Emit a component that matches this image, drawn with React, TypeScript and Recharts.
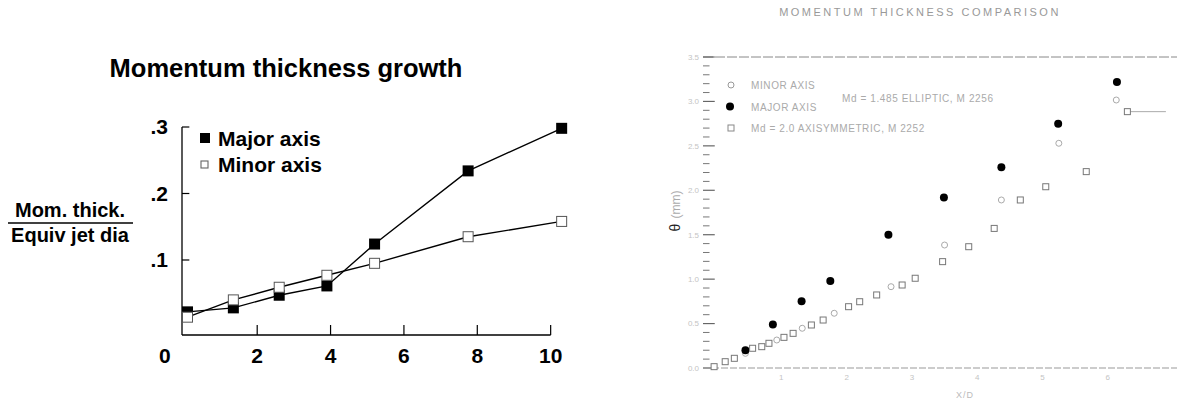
import React from 'react'
import {
  LineChart, Line, XAxis, YAxis, ReferenceLine, Legend,
  ScatterChart, Scatter,
} from 'recharts'

const FONT = '"Liberation Sans", Arial, Helvetica, sans-serif'

// left panel: momentum thickness growth
const axialDist = [0.1, 1.35, 2.6, 3.9, 5.2, 7.75, 10.3]
const majorAxis = [0.022, 0.028, 0.047, 0.061, 0.124, 0.234, 0.298]
const minorAxis = [0.014, 0.04, 0.059, 0.077, 0.095, 0.135, 0.158]
const growthXTicks = [0, 2, 4, 6, 8, 10]
const growthYTicks = [0.1, 0.2, 0.3]
const growthXDomain = [-0.05, 10.5]
const growthYDomain = [-0.0128, 0.3]

// right panel: momentum thickness comparison (faded scan)
const compSeries = ['MINOR AXIS', 'MAJOR AXIS', 'Md = 2.0 AXISYMMETRIC, M 2252']
const majorX = [0.45, 0.87, 1.31, 1.75, 2.64, 3.49, 4.37, 5.24, 6.14]
const majorTheta = [0.2, 0.49, 0.75, 0.98, 1.5, 1.92, 2.26, 2.75, 3.22]
const minorX = [0.45, 0.93, 1.32, 1.81, 2.68, 3.5, 4.37, 5.25, 6.13]
const minorTheta = [0.165, 0.315, 0.447, 0.616, 0.915, 1.384, 1.891, 2.529, 3.016]
const axiX = [-0.03, 0.14, 0.28, 0.56, 0.7, 0.81, 1.04, 1.18, 1.46, 1.64, 2.03, 2.2, 2.46, 2.85, 3.05, 3.47, 3.87, 4.26, 4.66, 5.05, 5.67, 6.3]
const axiTheta = [0.015, 0.071, 0.109, 0.222, 0.24, 0.278, 0.345, 0.39, 0.484, 0.54, 0.69, 0.746, 0.822, 0.934, 1.01, 1.197, 1.365, 1.571, 1.891, 2.04, 2.21, 2.885]
const compXTicks = [1, 2, 3, 4, 5, 6]
const compYTicks = [0, 0.5, 1, 1.5, 2, 2.5, 3, 3.5]
const compMinorTicks = [0.1, 0.2, 0.3, 0.4, 0.6, 0.7, 0.8, 0.9, 1.1, 1.2, 1.3, 1.4, 1.6, 1.7, 1.8, 1.9, 2.1, 2.2, 2.3, 2.4, 2.6, 2.7, 2.8, 2.9, 3.1, 3.2, 3.3, 3.4]
const compXDomain = [-0.2, 7.06]
const compYDomain = [0, 3.5]

const growthData = axialDist.map((x, i) => ({ x, major: majorAxis[i], minor: minorAxis[i] }))
const majorPts = majorX.map((x, i) => ({ x, y: majorTheta[i] }))
const minorPts = minorX.map((x, i) => ({ x, y: minorTheta[i] }))
const axiPts = axiX.map((x, i) => ({ x, y: axiTheta[i] }))

const FilledSquare = (p: any) => {
  if (p.cx == null || p.cy == null) return null
  return <rect x={p.cx - 5.5} y={p.cy - 5.5} width={11} height={11} fill="#000" />
}
const OpenSquare = (p: any) => {
  if (p.cx == null || p.cy == null) return null
  return <rect x={p.cx - 5} y={p.cy - 5} width={10} height={10} fill="#fff" stroke="#555" strokeWidth={1} />
}

const GrowthXTick = (p: any) => {
  const v = p.payload.value
  return (
    <text x={p.x + (v === 0 ? -19 : 0)} y={p.y} dy={19.5} textAnchor="middle"
      fontFamily={FONT} fontWeight="bold" fontSize={21} fill="#000">{v}</text>
  )
}

const GrowthYLabel = () => (
  <g>
    <text x={70} y={217} textAnchor="middle" fontFamily={FONT} fontWeight="bold" fontSize={20} fill="#000">Mom. thick.</text>
    <line x1={8} x2={133} y1={223} y2={223} stroke="#000" strokeWidth={1.5} />
    <text x={70} y={242} textAnchor="middle" fontFamily={FONT} fontWeight="bold" fontSize={20} fill="#000">Equiv jet dia</text>
  </g>
)

const GrowthLegend = ({ payload }: any) => (
  <svg width={180} height={60} style={{ display: 'block', overflow: 'visible' }}>
    {(payload || []).map((item: any, i: number) => {
      const cy = 14 + i * 26.5
      return (
        <g key={item.value}>
          {item.dataKey === 'major'
            ? <rect x={4} y={cy - 5} width={10} height={10} fill="#000" />
            : <rect x={5} y={cy - 3.5} width={7} height={7} fill="#fff" stroke="#666" strokeWidth={1.1} />}
          <text x={22} y={cy + 7.5} fontFamily={FONT} fontWeight="bold" fontSize={21} fill="#000">{item.value}</text>
        </g>
      )
    })}
  </svg>
)

const DotFilled = (p: any) => <circle cx={p.cx} cy={p.cy} r={4} fill="#000" />
const DotOpen = (p: any) => <circle cx={p.cx} cy={p.cy} r={3} fill="none" stroke="#aaa" strokeWidth={1} />
const SquareOpenSmall = (p: any) => <rect x={p.cx - 3} y={p.cy - 3} width={6} height={6} fill="#fff" stroke="#777" strokeWidth={1} />

const CompLegend = ({ payload }: any) => {
  const items = [...(payload || [])].sort((a: any, b: any) => compSeries.indexOf(a.value) - compSeries.indexOf(b.value))
  return (
    <svg width={360} height={70} style={{ display: 'block', overflow: 'visible' }}>
      {items.map((item: any, i: number) => {
        const cy = 15 + i * 21.5
        let mark
        if (item.value === compSeries[1]) mark = <circle cx={10} cy={cy} r={4} fill="#000" />
        else if (item.value === compSeries[0]) mark = <circle cx={11} cy={cy} r={3} fill="none" stroke="#999" />
        else mark = <rect x={8} y={cy - 3} width={6} height={6} fill="none" stroke="#888" />
        return (
          <g key={item.value}>
            {mark}
            <text x={31} y={cy + 4} fontFamily={FONT} fontSize={10} letterSpacing={0.6} fill="#aaa">{item.value}</text>
          </g>
        )
      })}
      <text x={122} y={32} fontFamily={FONT} fontSize={10} letterSpacing={0.6} fill="#aaa">Md = 1.485 ELLIPTIC, M 2256</text>
    </svg>
  )
}

// coordinates below are in the right chart's own svg (which starts at page x = 600)
const CompYLabel = () => (
  <text transform="rotate(-90, 80, 211)" x={80} y={211} textAnchor="middle" fontFamily={FONT} fontSize={12}>
    <tspan fill="#222" fontSize={14}>θ</tspan>
    <tspan fill="#aaa" dx={5}>(mm)</tspan>
  </text>
)
const CompXLabel = () => (
  <text x={365} y={398} textAnchor="middle" fontFamily={FONT} fontSize={9} letterSpacing={1} fill="#bbb">X/D</text>
)

export default function App() {
  const yMin = growthYDomain[0]
  const cxMin = compXDomain[0]
  return (
    <div style={{ position: 'absolute', left: 0, top: 0, width: 1179, height: 403, background: '#fff', overflow: 'hidden' }}>
      <div style={{ position: 'absolute', left: 0, top: 56, width: 572, textAlign: 'center', fontFamily: FONT, fontWeight: 'bold', fontSize: 25.5, lineHeight: '25px', color: '#000' }}>
        Momentum thickness growth
      </div>
      <div style={{ position: 'absolute', left: 0, top: 0 }}>
        <LineChart width={600} height={403} data={growthData} margin={{ top: 127, right: 31, bottom: 0, left: 0 }}>
          <XAxis dataKey="x" type="number" domain={growthXDomain} ticks={growthXTicks} interval={0}
            height={68} axisLine={false} tickLine={false} tick={<GrowthXTick />} />
          <YAxis type="number" domain={growthYDomain} ticks={growthYTicks} interval={0} width={182}
            tickLine={false} tickSize={6} tickMargin={8}
            axisLine={{ stroke: '#000', strokeWidth: 1.3 }}
            tick={{ fill: '#000', fontSize: 21, fontWeight: 'bold', fontFamily: FONT }}
            tickFormatter={(v: number) => '.' + Math.round(v * 10)}
            label={<GrowthYLabel />} />
          <ReferenceLine segment={[{ x: growthXDomain[0], y: yMin }, { x: 10, y: yMin }]} stroke="#000" strokeWidth={1.3} ifOverflow="visible" />
          {growthXTicks.filter(t => t > 0).map(t => (
            <ReferenceLine key={'xt' + t} segment={[{ x: t, y: yMin }, { x: t, y: yMin + 0.015 }]} stroke="#000" strokeWidth={1.2} ifOverflow="visible" />
          ))}
          {growthYTicks.map(t => (
            <ReferenceLine key={'yt' + t} segment={[{ x: growthXDomain[0], y: t }, { x: 0.15, y: t }]} stroke="#000" strokeWidth={1.2} ifOverflow="visible" />
          ))}
          <Line dataKey="major" name="Major axis" stroke="#000" strokeWidth={1.4} dot={<FilledSquare />} isAnimationActive={false} />
          <Line dataKey="minor" name="Minor axis" stroke="#000" strokeWidth={1.4} dot={<OpenSquare />} isAnimationActive={false} />
          <Legend layout="horizontal" verticalAlign="middle" align="center" content={<GrowthLegend />}
            wrapperStyle={{ left: 196, top: 124, width: 200, height: 60 }} />
        </LineChart>
      </div>

      <div style={{ position: 'absolute', left: 670, top: 7, width: 500, textAlign: 'center', fontFamily: FONT, fontSize: 11, lineHeight: '11px', letterSpacing: 2.5, color: '#999' }}>
        MOMENTUM THICKNESS COMPARISON
      </div>
      <div style={{ position: 'absolute', left: 600, top: 0 }}>
        <ScatterChart width={579} height={403} margin={{ top: 57, right: 2, bottom: 5, left: 0 }}>
          <XAxis dataKey="x" type="number" domain={compXDomain} ticks={compXTicks} interval={0} height={30}
            axisLine={{ stroke: '#999', strokeWidth: 1, strokeDasharray: '7 2' }} tickLine={false} tickSize={4} tickMargin={2}
            tick={{ fill: '#c4c4c4', fontSize: 8, fontFamily: FONT }}
            label={<CompXLabel />} />
          <YAxis dataKey="y" type="number" domain={compYDomain} ticks={compYTicks} interval={0} width={103}
            axisLine={false} tickLine={false} tickSize={0} tickMargin={4}
            tick={{ fill: '#c4c4c4', fontSize: 8, fontFamily: FONT }}
            tickFormatter={(v: number) => v.toFixed(1)}
            label={<CompYLabel />} />
          <ReferenceLine y={3.5} stroke="#888" strokeWidth={1} strokeDasharray="10 2" ifOverflow="visible" />
          {compYTicks.map(t => (
            <ReferenceLine key={'cy' + t} segment={[{ x: cxMin, y: t }, { x: cxMin + 0.18, y: t }]} stroke="#666" strokeWidth={1.2} ifOverflow="visible" />
          ))}
          {compMinorTicks.map(t => (
            <ReferenceLine key={'cm' + t} segment={[{ x: cxMin, y: t }, { x: cxMin + 0.1, y: t }]} stroke="#777" strokeWidth={1} ifOverflow="visible" />
          ))}
          <ReferenceLine segment={[{ x: 6.3, y: 2.885 }, { x: 6.89, y: 2.885 }]} stroke="#aaa" ifOverflow="visible" />
          <Scatter name={compSeries[0]} data={minorPts} shape={<DotOpen />} isAnimationActive={false} />
          <Scatter name={compSeries[1]} data={majorPts} shape={<DotFilled />} isAnimationActive={false} />
          <Scatter name={compSeries[2]} data={axiPts} shape={<SquareOpenSmall />} isAnimationActive={false} />
          <Legend layout="horizontal" verticalAlign="middle" align="center" content={<CompLegend />}
            wrapperStyle={{ left: 120, top: 70, width: 360, height: 70 }} />
        </ScatterChart>
      </div>
    </div>
  )
}
